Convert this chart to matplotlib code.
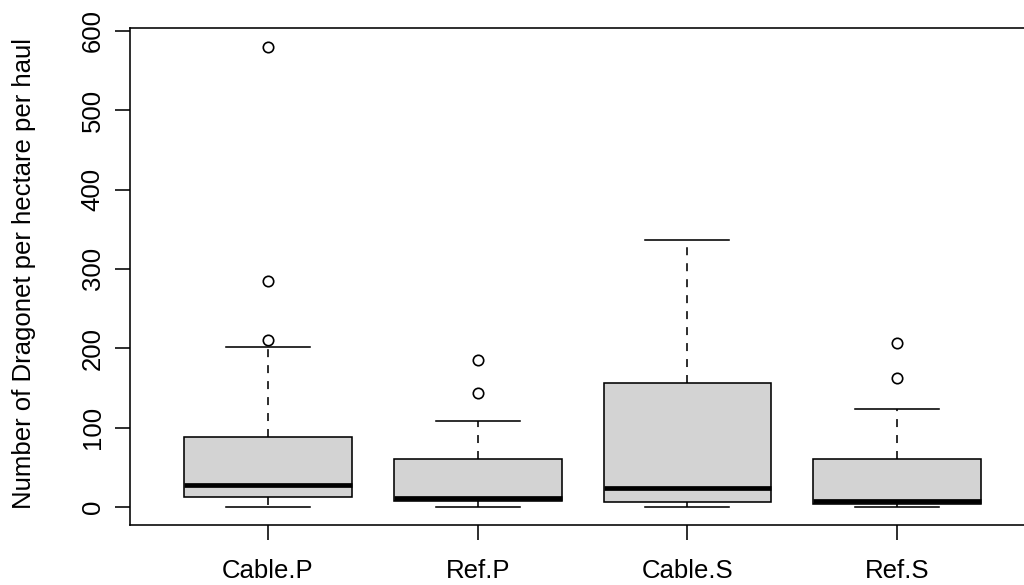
import matplotlib
matplotlib.use("Agg")
import matplotlib.pyplot as plt

plt.rcParams['font.family'] = ['Liberation Sans', 'DejaVu Sans']

# Groups and summary statistics (counts per hectare per haul)
groups = ["Cable.P", "Ref.P", "Cable.S", "Ref.S"]
whisker_low = [0, 0, 0, 0]
q1 = [12, 7, 6, 4]
median = [27, 11, 24, 8]
q3 = [88, 61, 156, 61]
whisker_high = [201, 108, 336, 124]
outliers = [[210, 285, 580], [144, 185], [], [163, 207]]

y_ticks = [0, 100, 200, 300, 400, 500, 600]
y_label = "Number of Dragonet per hectare per haul"

stats = []
for name, lo, a, m, b, hi, fl in zip(groups, whisker_low, q1, median, q3,
                                     whisker_high, outliers):
    stats.append(dict(label=name, whislo=lo, q1=a, med=m, q3=b,
                      whishi=hi, fliers=fl))

fig = plt.figure(figsize=(10.24, 5.85), dpi=100)
ax = fig.add_axes([0.1266, 0.102, 0.8846, 0.8496])

lw = 1.15
ax.bxp(stats, positions=range(1, len(groups) + 1), widths=0.8,
       capwidths=0.4, patch_artist=True,
       boxprops=dict(facecolor="#D3D3D3", edgecolor="black", linewidth=lw),
       medianprops=dict(color="black", linewidth=3.4, solid_capstyle="butt"),
       whiskerprops=dict(color="black", linewidth=lw, linestyle=(0, (5, 5))),
       capprops=dict(color="black", linewidth=lw),
       flierprops=dict(marker="o", markerfacecolor="none",
                       markeredgecolor="black", markersize=7.5,
                       markeredgewidth=1.2))

top = max(max(f) if f else 0 for f in outliers)
pad = 0.04 * top
ax.set_ylim(-pad, top + pad)
ax.set_xlim(0.34, 4.66)

ax.set_yticks(y_ticks)
ax.set_yticklabels([str(t) for t in y_ticks], rotation=90, va="center")
ax.set_xticks(range(1, len(groups) + 1))
ax.set_xticklabels(groups)

fs = 18.5
ax.tick_params(axis="both", length=11, width=lw, color="black",
               labelsize=fs, direction="out")
ax.tick_params(axis="y", pad=7)
ax.tick_params(axis="x", pad=13.5)

for sp in ax.spines.values():
    sp.set_linewidth(lw)
    sp.set_color("black")

ax.set_ylabel(y_label, fontsize=fs, ha="center", va="center")
ax.yaxis.set_label_coords(-0.1166, 0.507)

fig.savefig("out.png", dpi=100)
